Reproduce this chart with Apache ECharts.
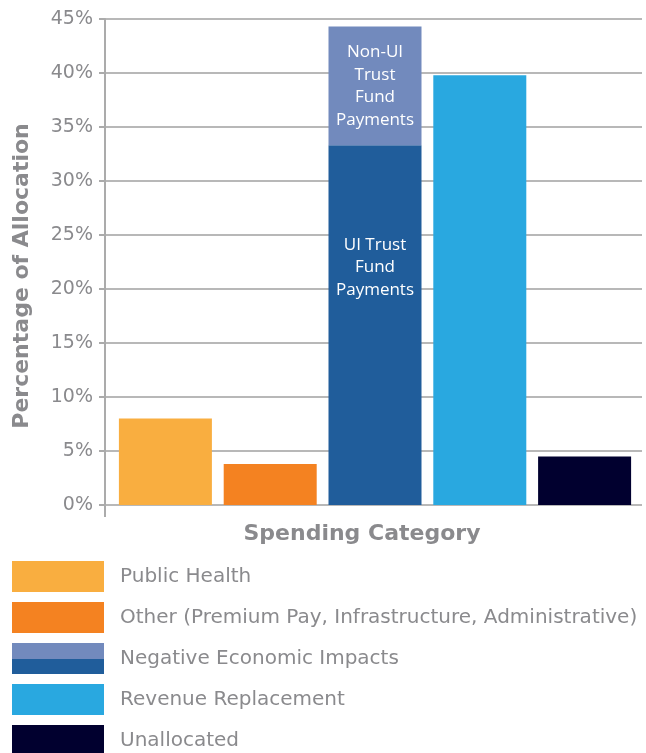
<!DOCTYPE html>
<html lang="en">
<head>
<meta charset="UTF-8">
<script src="https://cdn.jsdelivr.net/npm/echarts@6/dist/echarts.min.js"></script>
<title>Spending Category</title>
<style>
html, body { margin: 0; padding: 0; background: #fff; }
#chart { width: 646px; height: 753px; }
</style>
</head>
<body>
<div id="chart"></div>
<script>
// categories / legend names
var categories = ['Public Health', 'Other (Premium Pay, Infrastructure, Administrative)',
    'Negative Economic Impacts', 'Revenue Replacement', 'Unallocated'];
// main bar values (% of allocation); for NEI this is the UI trust fund part
var baseValues = [8.0, 3.8, 33.3, 39.8, 4.5];
// Non-UI trust fund part sitting on top of the NEI bar
var nonUiValues = [0, 0, 11.0, 0, 0];
var baseColors = ['#f9ae40', '#f48221', '#205d9b', '#29a8e0', '#01002f'];
var nonUiColor = '#728abd';
var yTicks = { min: 0, max: 45, interval: 5 };
var uiLabel = 'UI Trust\nFund\nPayments';
var nonUiLabel = 'Non-UI\nTrust\nFund\nPayments';

var gray = '#8a8a8d';
var font = 'Open Sans';
var wideFont = 'DejaVu Sans';

var series = [];
categories.forEach(function (name, i) {
    var d = categories.map(function (c, j) { return j === i ? baseValues[i] : '-'; });
    var s = {
        name: name,
        type: 'bar',
        xAxisIndex: 1, yAxisIndex: 1,
        stack: 'total',
        barWidth: 93,
        data: d,
        itemStyle: { color: baseColors[i] },
        silent: true
    };
    if (i === 2) {
        s.label = {
            show: true, position: ['50%', 122], align: 'center', verticalAlign: 'middle',
            formatter: uiLabel, color: '#fff', fontFamily: font, fontSize: 17, lineHeight: 22.5
        };
    }
    series.push(s);
});
series.push({
    name: 'Non-UI Trust Fund Payments',
    type: 'bar',
    xAxisIndex: 1, yAxisIndex: 1,
    stack: 'total',
    barWidth: 93,
    data: nonUiValues.map(function (v) { return v || '-'; }),
    itemStyle: { color: nonUiColor },
    label: {
        show: true, position: 'inside', formatter: nonUiLabel,
        color: '#fff', fontFamily: font, fontSize: 17, lineHeight: 22.5
    },
    silent: true
});

var legendData = categories.map(function (name, i) {
    if (i === 2) {
        return {
            name: name,
            itemStyle: {
                color: new echarts.graphic.LinearGradient(0, 0, 0, 1, [
                    { offset: 0, color: nonUiColor }, { offset: 0.5, color: nonUiColor },
                    { offset: 0.5, color: baseColors[2] }, { offset: 1, color: baseColors[2] }
                ])
            }
        };
    }
    return { name: name };
});

var chart = echarts.init(document.getElementById('chart'));
chart.setOption({
    animation: false,
    grid: [
        { left: 105, right: 4, top: 19, bottom: 248 },
        { left: 113, right: 9, top: 19, bottom: 248 }
    ],
    xAxis: [
        { gridIndex: 0, type: 'category', data: categories, show: false },
        { gridIndex: 1, type: 'category', data: categories, show: false }
    ],
    yAxis: [
        {
            gridIndex: 0, type: 'value', min: yTicks.min, max: yTicks.max, interval: yTicks.interval,
            axisLine: { show: true, lineStyle: { color: '#ababab', width: 2 } },
            axisTick: { show: true, length: 6, lineStyle: { color: '#ababab', width: 2 } },
            splitLine: { show: true, lineStyle: { color: '#b8b8b8', width: 2 } },
            axisLabel: { formatter: '{value}%', color: gray, fontFamily: wideFont, fontSize: 19, margin: 12 }
        },
        { gridIndex: 1, type: 'value', min: yTicks.min, max: yTicks.max, show: false }
    ],
    legend: {
        orient: 'vertical', left: 12, top: 561, height: 260, padding: 0,
        icon: 'rect', itemWidth: 92, itemHeight: 31, itemGap: 10,
        textStyle: { color: gray, fontFamily: wideFont, fontSize: 20, padding: [0, 0, 0, 11] },
        selectedMode: false,
        data: legendData
    },
    graphic: [
        { type: 'line', shape: { x1: 105, y1: 505, x2: 105, y2: 517 },
          style: { stroke: '#ababab', lineWidth: 2 }, silent: true },
        { type: 'text', x: 22, y: 276, rotation: Math.PI / 2,
          style: { text: 'Percentage of Allocation', fill: gray, font: 'bold 22px "DejaVu Sans"',
                   textAlign: 'center', textVerticalAlign: 'middle' } },
        { type: 'text', x: 362, y: 534,
          style: { text: 'Spending Category', fill: gray, font: 'bold 22px "DejaVu Sans"',
                   textAlign: 'center', textVerticalAlign: 'middle' } }
    ],
    series: series
});
</script>
</body>
</html>
